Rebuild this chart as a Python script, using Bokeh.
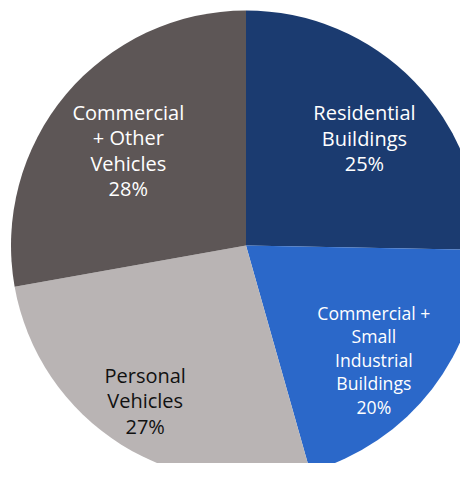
import math
from bokeh.plotting import figure
from bokeh.models import Range1d, ColumnDataSource
from bokeh.core.properties import value
from bokeh.embed import file_html
from bokeh.resources import INLINE

# ---- data ----
categories = ["Residential\nBuildings",
              "Commercial +\nSmall\nIndustrial\nBuildings",
              "Personal\nVehicles",
              "Commercial\n+ Other\nVehicles"]
shares = [25.3, 20.3, 26.6, 27.8]
pct_labels = ["25%", "20%", "27%", "28%"]

# ---- style ----
colors = ["#1b3b70", "#2b68c9", "#b9b4b4", "#5d5656"]
text_colors = ["#ffffff", "#ffffff", "#111111", "#ffffff"]
font_sizes = [20, 17.6, 20, 20]
line_steps = [25.5, 23.5, 25.5, 25.5]
label_r_frac = [0.68, 0.73, 0.787, 0.644]
label_angle_shift = [-2.3, -4.2, -1.0, 1.0]
R = 235

W, H = 460, 463
CX, CY = 245.5, 245  # pie centre in pixels from top-left

p = figure(width=W, height=H, output_backend="svg", toolbar_location=None,
           x_axis_location=None, y_axis_location=None, min_border=0,
           x_range=Range1d(-CX, W - CX), y_range=Range1d(CY - H, CY))
p.grid.visible = False
p.outline_line_color = None
p.background_fill_color = "white"
p.border_fill_color = "white"

total = sum(shares)
starts, ends, mids = [], [], []
cum = 0.0
for v in shares:
    a0 = 90 - cum / total * 360
    a1 = 90 - (cum + v) / total * 360
    starts.append(a1)
    ends.append(a0)
    mids.append((a0 + a1) / 2)
    cum += v

src = ColumnDataSource(dict(start=starts, end=ends, color=colors, name=categories))
p.wedge(x=0, y=0, radius=R, start_angle="start", end_angle="end",
        start_angle_units="deg", end_angle_units="deg",
        fill_color="color", line_color=None, source=src)

tx, ty, tt, tc, ts = [], [], [], [], []
for i, cat in enumerate(categories):
    lines = cat.split("\n") + [pct_labels[i]]
    ang = math.radians(mids[i] + label_angle_shift[i])
    cx = R * label_r_frac[i] * math.cos(ang)
    cy = R * label_r_frac[i] * math.sin(ang)
    n = len(lines)
    for j, ln in enumerate(lines):
        tx.append(cx)
        ty.append(cy + ((n - 1) / 2 - j) * line_steps[i])
        tt.append(ln)
        tc.append(text_colors[i])
        ts.append(f"{font_sizes[i]}px")

tsrc = ColumnDataSource(dict(x=tx, y=ty, text=tt, color=tc, size=ts))
p.text(x="x", y="y", text="text", text_color="color", text_font_size="size",
       text_font=value("Open Sans"), text_align="center", text_baseline="middle",
       source=tsrc)

open("out.html", "w").write(file_html(p, INLINE))
